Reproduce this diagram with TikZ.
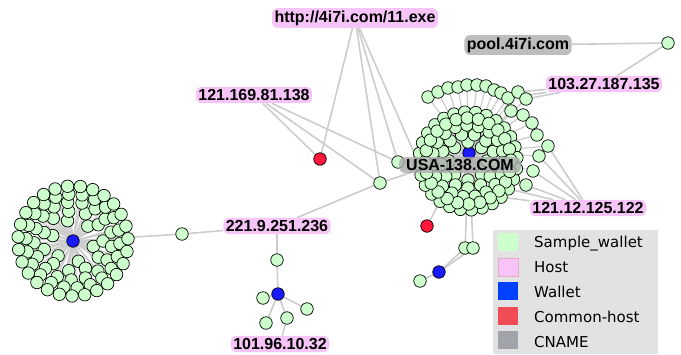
\documentclass[tikz,border=0pt]{standalone}
\usepackage{fontspec}
\setmainfont{Liberation Sans}
\newfontfamily\legendfont{DejaVu Sans}
\usetikzlibrary{positioning}
\pgfdeclarelayer{bg}
\pgfsetlayers{bg,main}
\definecolor{samplegreen}{RGB}{204,255,204}
\definecolor{walletblue}{RGB}{26,26,255}
\definecolor{commonred}{RGB}{255,24,60}
\definecolor{hostpink}{RGB}{247,196,247}
\definecolor{cnamegray}{RGB}{172,172,172}
\definecolor{edgegray}{RGB}{204,204,204}
\definecolor{legendbg}{RGB}{226,226,226}
\tikzset{
  sample/.style={circle, draw=black, line width=0.7pt, fill=samplegreen,
    minimum size=12.5pt, inner sep=0pt},
  wallet/.style={sample, fill=walletblue},
  common/.style={sample, fill=commonred},
  host/.style={fill=hostpink, rounded corners=6pt, inner sep=2.5pt,
    font=\bfseries\fontsize{16}{16}\selectfont},
  cname/.style={host, fill=cnamegray, fill opacity=0.8, text opacity=1},
  edge/.style={draw=edgegray, line width=1.6pt},
  spoke/.style={draw=edgegray, line width=1.2pt},
  swatch/.style={minimum width=20pt, minimum height=18pt, inner sep=0pt},
  keytext/.style={font=\legendfont\fontsize{15}{15}\selectfont,
    anchor=base west, inner sep=0pt},
}
\begin{document}
\begin{tikzpicture}[x=1pt,y=-1pt]
  \useasboundingbox (0,0) rectangle (681,354);
  % wallets, common hosts and single samples
  \node[wallet] (lw) at (73,241) {};
  \node[wallet] (rw) at (469,153) {};
  \node[wallet] (mw) at (278,294) {};
  \node[wallet] (sw) at (439,272) {};
  \node[common] (c1) at (320,159) {};
  \node[common] (c2) at (427,226) {};
  \node[sample] (g1) at (182,234) {};
  \node[sample] (g2) at (277,260) {};
  \node[sample] (g3) at (380,183) {};
  \node[sample] (g4) at (398,162) {};
  \node[sample] (g5) at (668,43) {};
  \node[sample] (p1) at (465,248) {};
  \node[sample] (p2) at (473,248) {};
  \node[sample] (s1) at (420,281) {};
  \node[sample] (m1) at (263,298) {};
  \node[sample] (m2) at (266,323) {};
  \node[sample] (m3) at (287,318) {};
  \node[sample] (m4) at (307,309) {};
  % left cluster
  \foreach \r/\n/\o [count=\k] in {21/6/15, 30/11/0, 39/17/8, 47/22/3, 55/27/11}
    \foreach \i in {1,...,\n} {
      \node[sample] (L\k-\i) at ([shift={(\o+360*\i/\n:\r)}]lw) {};
      \begin{pgfonlayer}{bg}
        \draw[spoke] (lw) -- (L\k-\i);
      \end{pgfonlayer}
    }
  % right cluster
  \coordinate (dc) at (468,161);
  \foreach \r/\n/\o [count=\k] in {19/8/0, 27/13/7, 36/19/3, 49/28/9, 43/24/14}
    \foreach \i in {1,...,\n} {
      \node[sample] (D\k-\i) at ([shift={(\o+360*\i/\n:\r)}]dc) {};
      \begin{pgfonlayer}{bg}
        \draw[spoke] (rw) -- (D\k-\i);
      \end{pgfonlayer}
    }
  \foreach \x/\y [count=\i] in {428/97, 438/92, 448/88, 458/87, 467/85,
      477/85, 486/86, 494/90, 501/93, 508/98, 518/92, 526/99, 511/111,
      523/115, 532/123, 537/135, 548/146, 539/156, 533/171, 526/185} {
    \node[sample] (R\i) at (\x,\y) {};
    \begin{pgfonlayer}{bg}
      \draw[spoke] (rw) -- (R\i);
    \end{pgfonlayer}
  }
  % hosts and cnames
  \node[host] (http) at (355,18) {http://4i7i.com/11.exe};
  \node[host] (h121) at (254,95) {121.169.81.138};
  \node[host] (h221) at (277,226) {221.9.251.236};
  \node[host] (h101) at (280,344) {101.96.10.32};
  \node[host] (h103) at (604,84) {103.27.187.135};
  \node[host] (h12) at (588,208) {121.12.125.122};
  \node[cname, inner xsep=7pt] (usa) at (460,165) {USA-138.COM};
  \node[cname] (pool) at (518,45) {pool.4i7i.com};
  \begin{pgfonlayer}{bg}
    \draw[edge] (g1) -- (lw);
    \draw[edge] (g1) -- (h221);
    \draw[edge] (h221) -- (g2);
    \draw[edge] (g2) -- (mw);
    \draw[edge] (h221) -- (g3);
    \draw[edge] (mw) -- (m1);
    \draw[edge] (mw) -- (m2);
    \draw[edge] (mw) -- (m3);
    \draw[edge] (mw) -- (m4);
    \draw[edge] (m3) -- (h101);
    \draw[edge] (h121) -- (c1);
    \draw[edge] (h121) -- (g3);
    \draw[edge] (h121) -- (g4);
    \draw[edge] (http) -- (c1);
    \draw[edge] (http) -- (g3);
    \draw[edge] (http) -- (g4);
    \draw[edge] (http) -- (D4-13);
    \draw[edge] (g3) -- (rw);
    \draw[edge] (g4) -- (rw);
    \draw[edge] (c2) -- (D4-9);
    \draw[edge] (p1) -- (rw);
    \draw[edge] (p2) -- (rw);
    \draw[edge] (sw) -- (p1);
    \draw[edge] (sw) -- (p2);
    \draw[edge] (sw) -- (s1);
    \draw[edge] (pool) -- (g5);
    \draw[edge] (g5) -- (h103);
    \draw[edge] (h103) -- (R10);
    \draw[edge] (h103) -- (R11);
    \draw[edge] (h103) -- (R12);
    \draw[edge] (h12) -- (R17);
    \draw[edge] (h12) -- (R18);
    \draw[edge] (h12) -- (R19);
    \draw[edge] (h12) -- (R20);
    \draw[edge] (h12) -- (D4-2);
    \draw[edge] (h12) -- (D4-3);
  \end{pgfonlayer}
  % legend
  \fill[legendbg] (493,230) rectangle (658,354);
  \node[swatch, fill=samplegreen] (k1) at (508,242) {};
  \node[swatch, fill=hostpink, draw={rgb,255:red,232;green,170;blue,200}] (k2) at (508,267) {};
  \node[swatch, fill={rgb,255:red,0;green,64;blue,255}] (k3) at (508,291) {};
  \node[swatch, fill={rgb,255:red,240;green,76;blue,86}] (k4) at (508,316) {};
  \node[swatch, fill={rgb,255:red,160;green,163;blue,168}] (k5) at (508,340) {};
  \node[keytext] (t1) at (534,247.5) {Sample\_wallet};
  \node[keytext] (t2) at (534,272.5) {Host};
  \node[keytext] (t3) at (534,297) {Wallet};
  \node[keytext] (t4) at (534,322) {Common-host};
  \node[keytext] (t5) at (534,347) {CNAME};
\end{tikzpicture}
\end{document}
